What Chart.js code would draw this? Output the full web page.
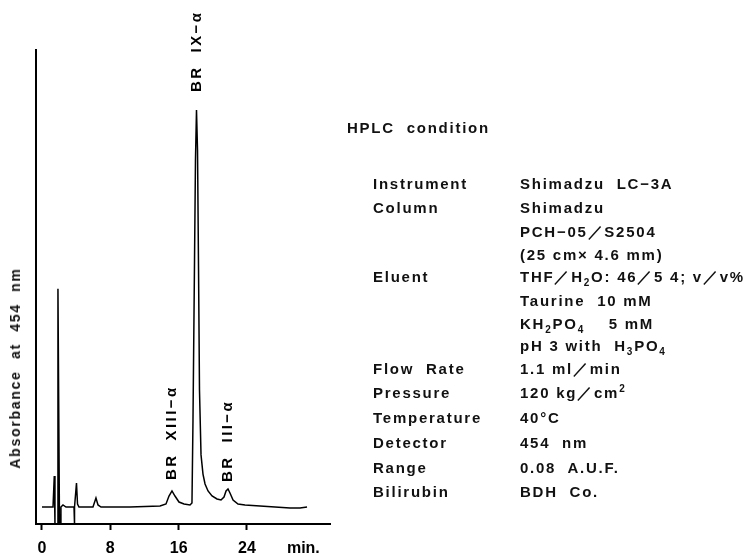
<!DOCTYPE html>
<html>
<head>
<meta charset="utf-8">
<script src="https://cdn.jsdelivr.net/npm/chart.js@4/dist/chart.umd.min.js"></script>
<style>
  html, body { margin: 0; padding: 0; background: #fff; }
  #wrap { position: relative; width: 750px; height: 560px; overflow: hidden; }
  #chart { position: absolute; left: 0; top: 0; }
  .t { position: absolute; font-family: "Liberation Sans", Arial, sans-serif; font-weight: bold;
       font-size: 15px; letter-spacing: 1.75px; color: #111; white-space: pre; line-height: 18px; }
  .t sub, .t sup { font-size: 10px; line-height: 0; }
  #ytitle { position: absolute; left: 15px; top: 368px; transform: translate(-50%, -50%) rotate(-90deg);
       font-family: "Liberation Sans", Arial, sans-serif; font-weight: bold; font-size: 14px;
       letter-spacing: 1.75px; white-space: pre; color: #111; }
</style>
</head>
<body>
<div id="wrap">
  <canvas id="chart" width="750" height="560"></canvas>
  <div id="ytitle">Absorbance  at  454  nm</div>
  <div class="t" style="left:347px;top:119px;">HPLC  condition</div>

  <div class="t" style="left:373px;top:175px;">Instrument</div>
  <div class="t" style="left:520px;top:175px;">Shimadzu  LC−3A</div>
  <div class="t" style="left:373px;top:199px;">Column</div>
  <div class="t" style="left:520px;top:199px;">Shimadzu</div>
  <div class="t" style="left:520px;top:223px;">PCH−05／S2504</div>
  <div class="t" style="left:520px;top:246px;">(25 cm× 4.6 mm)</div>
  <div class="t" style="left:373px;top:268px;">Eluent</div>
  <div class="t" style="left:520px;top:268px;">THF／H<sub>2</sub>O: 46／5 4; v／v%</div>
  <div class="t" style="left:520px;top:292px;">Taurine  10 mM</div>
  <div class="t" style="left:520px;top:315px;">KH<sub>2</sub>PO<sub>4</sub>    5 mM</div>
  <div class="t" style="left:520px;top:337px;">pH 3 with  H<sub>3</sub>PO<sub>4</sub></div>
  <div class="t" style="left:373px;top:360px;">Flow  Rate</div>
  <div class="t" style="left:520px;top:360px;">1.1 ml／min</div>
  <div class="t" style="left:373px;top:384px;">Pressure</div>
  <div class="t" style="left:520px;top:384px;">120 kg／cm<sup>2</sup></div>
  <div class="t" style="left:373px;top:409px;">Temperature</div>
  <div class="t" style="left:520px;top:409px;">40°C</div>
  <div class="t" style="left:373px;top:434px;">Detector</div>
  <div class="t" style="left:520px;top:434px;">454  nm</div>
  <div class="t" style="left:373px;top:459px;">Range</div>
  <div class="t" style="left:520px;top:459px;">0.08  A.U.F.</div>
  <div class="t" style="left:373px;top:483px;">Bilirubin</div>
  <div class="t" style="left:520px;top:483px;">BDH  Co.</div>
</div>
<script>
// Retention time (min)
const retentionTime = [
  0, 1.29, 1.44, 1.52, 1.76, 1.87, 2.05, 2.17, 2.22, 2.46, 2.81, 3.75, 3.75, 3.82, 3.86,
  4.04, 4.16, 4.33, 5.97, 6.32, 6.56, 6.91, 10.3, 13.82, 14.52, 14.87, 15.22, 15.57,
  16.04, 16.63, 17.33, 17.56, 17.68, 17.86, 17.97, 18.09, 18.21, 18.33, 18.44, 18.62,
  18.85, 19.09, 19.44, 19.91, 20.49, 20.96, 21.31, 21.55, 21.78, 22.01, 22.37, 22.95,
  23.77, 25.53, 27.28, 29.04, 30.21, 31.03
];
// Detector signal (relative absorbance)
const absorbance = [
  3.54, 3.54, 10.0, 0, 0, 49.0, 0, 0, 3.54, 3.96, 3.54, 3.54, 0, 0, 3.54,
  8.54, 4.17, 3.54, 3.54, 5.42, 3.96, 3.54, 3.54, 3.75, 4.17, 5.83, 6.88, 5.83,
  4.58, 4.17, 3.96, 4.38, 21.7, 55.0, 75.8, 86.25, 77.9, 52.9, 27.9, 14.4,
  10.4, 8.33, 6.88, 5.83, 5.21, 5.0, 5.63, 6.88, 7.29, 6.46, 5.0, 4.17,
  3.96, 3.75, 3.54, 3.33, 3.33, 3.54
];
const peakNames = ["BR  XIII−α", "BR  IX−α", "BR  III−α"];
const peakTimes = [15.22, 18.09, 21.78];
const tickValues = [0, 8, 16, 24];
const unitLabel = "min.";
const unitLabelPos = 30.6;

const points = retentionTime.map((t, i) => ({ x: t, y: absorbance[i] }));

const peakLabelPlugin = {
  id: "peakLabels",
  afterDatasetsDraw(chart, args, opts) {
    const { ctx, scales: { x, y } } = chart;
    ctx.save();
    ctx.font = "bold 15px 'Liberation Sans', Arial, sans-serif";
    ctx.fillStyle = "#000";
    ctx.letterSpacing = "2.4px";
    ctx.textAlign = "left";
    ctx.textBaseline = "middle";
    peakNames.forEach((name, i) => {
      const t = peakTimes[i];
      let best = 0, bd = Infinity;
      points.forEach(p => { const d = Math.abs(p.x - t); if (d < bd) { bd = d; best = p.y; } });
      const px = x.getPixelForValue(t);
      const py = y.getPixelForValue(best) - opts.gaps[i];
      ctx.save();
      ctx.translate(px, py);
      ctx.rotate(-Math.PI / 2);
      ctx.fillText(name, 0, 0);
      ctx.restore();
    });
    ctx.restore();
  }
};

new Chart(document.getElementById("chart"), {
  type: "scatter",
  data: {
    datasets: [{
      data: points,
      showLine: true,
      borderColor: "#000",
      borderWidth: 1.5,
      pointRadius: 0,
      tension: 0,
      fill: false
    }]
  },
  options: {
    responsive: false,
    animation: false,
    layout: { padding: { left: 36, right: 420, top: 50, bottom: 0 } },
    plugins: {
      legend: { display: false },
      tooltip: { enabled: false },
      peakLabels: { gaps: [11, 18, 7] }
    },
    scales: {
      x: {
        type: "linear",
        min: -0.7,
        max: 33.72,
        afterBuildTicks: s => { s.ticks = tickValues.concat([unitLabelPos]).map(v => ({ value: v })); },
        afterFit: s => { s.height = 36; },
        grid: {
          display: true, drawOnChartArea: false, drawTicks: true, tickLength: 6, tickWidth: 2,
          tickColor: c => (c.tick && c.tick.value === unitLabelPos) ? "rgba(0,0,0,0)" : "#000"
        },
        border: { display: true, color: "#000", width: 2 },
        ticks: {
          color: "#000", padding: 9, maxRotation: 0, autoSkip: false,
          font: { family: "'Liberation Sans', Arial, sans-serif", weight: "bold", size: 16 },
          callback: v => v === unitLabelPos ? unitLabel : String(v)
        }
      },
      y: {
        min: 0,
        max: 98.75,
        afterFit: s => { s.width = 0; },
        ticks: { display: false },
        grid: { display: true, drawOnChartArea: false, drawTicks: false },
        border: { display: true, color: "#000", width: 2 }
      }
    }
  },
  plugins: [peakLabelPlugin]
});
</script>
</body>
</html>
